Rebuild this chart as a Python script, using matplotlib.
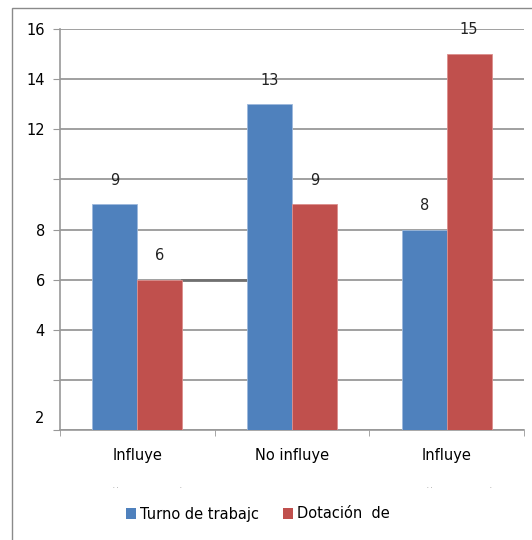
import numpy as np
import matplotlib
matplotlib.use("Agg")
import matplotlib.pyplot as plt
from matplotlib.patches import Rectangle, Patch

categories = ["Influye", "No influye", "Influye"]
turno = [9, 13, 8]
dotacion = [6, 9, 15]
series_names = ["Turno de trabajc", "Dotación  de"]

ytick_vals = [0, 2, 4, 6, 8, 10, 12, 14, 16]
ytick_text = ["", "", "4", "6", "8", "", "12", "14", "16"]

BLUE = "#4F81BD"
RED = "#C0504D"
GRID = "#989898"

plt.rcParams["font.family"] = ["DejaVu Sans"]

fig = plt.figure(figsize=(5.32, 5.40), dpi=100)
ax = fig.add_axes([60 / 532, 110 / 540, 464 / 532, 401 / 540])

x = np.arange(len(categories))
w = 0.29
b1 = ax.bar(x - w / 2, turno, w, color=BLUE, edgecolor="#9db9dc", linewidth=0.6, zorder=3)
b2 = ax.bar(x + w / 2, dotacion, w, color=RED, edgecolor="#dc8f8d", linewidth=0.6, zorder=3)
ax.bar_label(b1, padding=12, fontsize=10.5, color="#222222")
ax.bar_label(b2, padding=12, fontsize=10.5, color="#222222")

# darker stretch of the gridline between the first two groups
ax.plot([x[0] + w, x[1] - w], [dotacion[0], dotacion[0]], color="#707070", lw=2.0, zorder=2)

ax.set_xlim(-0.5, len(categories) - 0.5)
ax.set_ylim(0, 16)

ax.set_yticks(ytick_vals)
ax.set_yticklabels(ytick_text)
ax.set_yticks([0.5], minor=True)
ax.set_yticklabels(["2"], minor=True)
ax.tick_params(axis="y", which="major", length=5, color=GRID, labelsize=10.5, pad=5.8)
ax.tick_params(axis="y", which="minor", length=0, labelsize=10.5, pad=11)
ax.yaxis.grid(True, color=GRID, lw=1.3, zorder=0)

ax.set_xticks(x)
ax.set_xticklabels(categories)
ax.set_xticks(np.arange(len(categories) + 1) - 0.5, minor=True)
ax.tick_params(axis="x", which="major", length=0, labelsize=10.5, pad=13)
ax.tick_params(axis="x", which="minor", length=4.5, color=GRID)

for side in ["top", "right"]:
    ax.spines[side].set_visible(False)
for side in ["left", "bottom"]:
    ax.spines[side].set_color(GRID)
    ax.spines[side].set_linewidth(1.2)

# cut-off second lines of the category labels
for xp, s in [(116 / 532, ". ."), (180 / 532, "."), (430 / 532, ". ."), (490 / 532, ".")]:
    fig.text(xp, 1 - 486 / 540, s, fontsize=4, color="#555555", ha="center", va="center")

handles = [Patch(facecolor=BLUE), Patch(facecolor=RED)]
fig.legend(handles, series_names, loc="center", bbox_to_anchor=(258 / 532, 1 - 514 / 540),
           ncol=2, frameon=False, fontsize=10.5, handlelength=0.7, handleheight=0.7,
           handletextpad=0.3, columnspacing=1.6)

# chart border
fig.add_artist(Rectangle((12 / 532, -0.05), 1.2, 1 - 8 / 540 + 0.05, transform=fig.transFigure,
                         fill=False, edgecolor="#8a8a8a", lw=1))

fig.savefig("out.png", dpi=100)
